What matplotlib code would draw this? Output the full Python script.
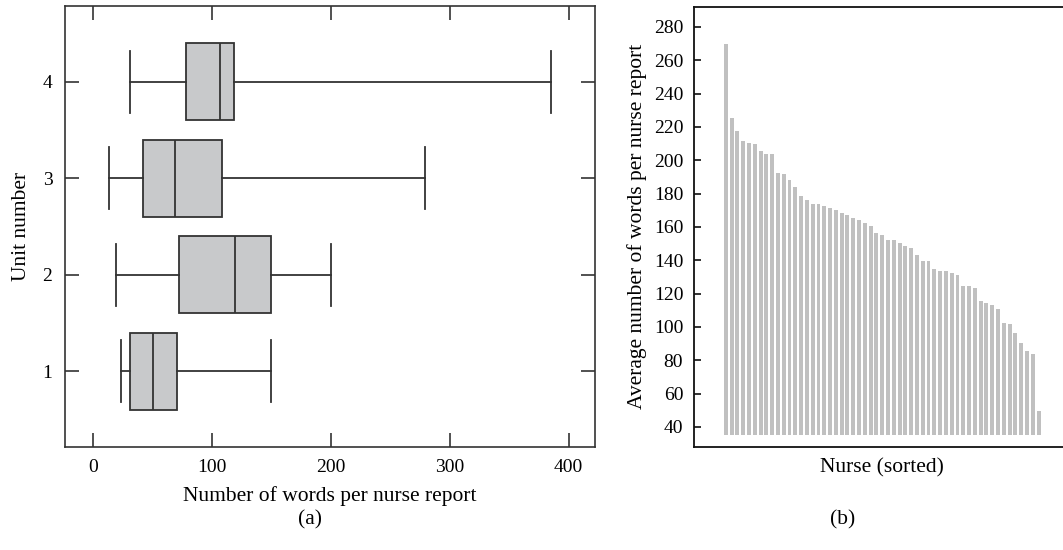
import numpy as np
import matplotlib
matplotlib.use("Agg")
import matplotlib.pyplot as plt

plt.rcParams['font.family'] = ['Liberation Serif', 'DejaVu Serif']

# (a) box plot, words per nurse report by unit
units = [1, 2, 3, 4]
whisker_low = [24, 20, 14, 31]
q1 = [31, 72.5, 42, 78.5]
median = [51, 120, 69.5, 107]
q3 = [71, 150, 109, 119]
whisker_high = [150, 200, 279, 385]

# (b) average words per report, nurses sorted
avg_words = [269.5, 225.5, 217.5, 211.4, 210.5, 209.5, 205.5, 203.6, 203.6, 192.6,
             191.6, 188.4, 184.2, 178.3, 176.4, 173.5, 173.5, 172.4, 171.4, 170.3,
             168.4, 167.4, 165.5, 164.4, 162.5, 160.4, 156.4, 155.4, 152.4, 152.4,
             150.5, 148.4, 147.4, 143.4, 139.6, 139.6, 134.5, 133.5, 133.5, 132.4,
             131.4, 124.4, 124.4, 123.4, 115.6, 114.5, 113.3, 110.5, 102.5, 101.5,
             96.6, 90.5, 85.5, 83.6, 49.7]

line_col = '#333333'
fs = 14      # tick labels
lfs = 15.5   # axis labels

fig = plt.figure(figsize=(10.63, 5.5), dpi=100)

# ---- left panel
ax1 = fig.add_axes([0.0611, 0.1878, 0.4984, 0.8012])
stats = []
for i in range(len(units)):
    stats.append(dict(whislo=whisker_low[i], q1=q1[i], med=median[i],
                      q3=q3[i], whishi=whisker_high[i], fliers=[]))
ax1.bxp(stats, positions=units, vert=False, widths=0.8, capwidths=0.64,
        showfliers=False, patch_artist=True,
        boxprops=dict(facecolor='#c8c9cb', edgecolor=line_col, linewidth=1.3),
        medianprops=dict(color=line_col, linewidth=1.3),
        whiskerprops=dict(color=line_col, linewidth=1.3),
        capprops=dict(color=line_col, linewidth=1.3))
ax1.set_xlim(-23.3, 422)
ax1.set_ylim(0.217, 4.786)
ax1.set_xticks([0, 100, 200, 300, 400])
ax1.set_yticks(units)
ax1.set_yticklabels([str(u) for u in units])
ax1.tick_params(direction='in', length=10, width=1.2, color=line_col,
                top=True, right=True, labelsize=fs, pad=9)
for s in ax1.spines.values():
    s.set_color(line_col)
    s.set_linewidth(1.2)
ax1.set_xlabel('Number of words per nurse report', fontsize=lfs, labelpad=7)
ax1.set_ylabel('Unit number', fontsize=lfs, labelpad=8)
fig.text(0.292, 0.054, '(a)', ha='center', va='center', fontsize=lfs)

# ---- right panel
ax2 = fig.add_axes([0.6532, 0.1878, 0.3534, 0.7995])
nurse = np.arange(len(avg_words))
ax2.bar(nurse, np.array(avg_words) - 35.2, bottom=35.2, width=0.68,
        color='#c0c0c0', linewidth=0)
ax2.set_xlim(-5.43, 59.43)
ax2.set_ylim(28.1, 292)
ax2.set_yticks(np.arange(40, 281, 20))
ax2.set_xticks([])
ax2.tick_params(axis='y', direction='in', length=5, width=1.2, color='#111111',
                labelsize=fs, pad=8)
for s in ax2.spines.values():
    s.set_color('#111111')
    s.set_linewidth(1.3)
ax2.set_xlabel('Nurse (sorted)', fontsize=lfs, labelpad=8)
ax2.set_ylabel('Average number of words per nurse report', fontsize=lfs, labelpad=5)
fig.text(0.793, 0.054, '(b)', ha='center', va='center', fontsize=lfs)

fig.savefig('out.png', dpi=100)
